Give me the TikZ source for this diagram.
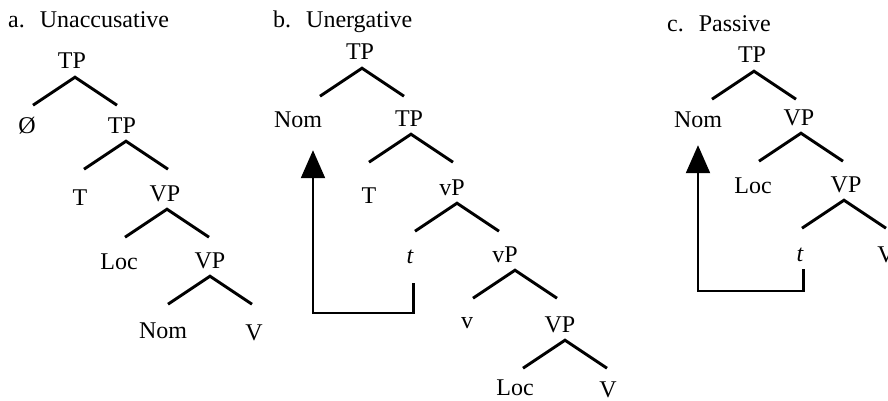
\documentclass[tikz,border=0pt]{standalone}
\usepackage{fontspec}
\setmainfont{Liberation Serif}
\usetikzlibrary{calc,arrows.meta}

\tikzset{
  lbl/.style={anchor=base, inner sep=0pt, text depth=8pt, font=\fontsize{24}{28}\selectfont},
  leaf/.style={lbl, text depth=0pt},
  ttl/.style={anchor=base west, inner sep=0pt, font=\fontsize{24}{28}\selectfont},
  branch/.style={line width=2.9pt, line cap=butt},
  move/.style={line width=2.2pt, -{Triangle[width=24pt,length=28pt]}},
}

% roof of two branches hanging below a node; optional argument shifts the apex sideways
\newcommand\roof[2][0]{%
  \coordinate (#2-apex) at ($(#2.south)+(#1,0)$);
  \coordinate (#2-l) at ($(#2-apex)+(-42,28)$);
  \coordinate (#2-r) at ($(#2-apex)+(42,28)$);
  \draw[branch] (#2-l) -- (#2-apex) -- (#2-r);}

\begin{document}
\begin{tikzpicture}[x=1pt, y=-1pt]
\useasboundingbox (0,0) rectangle (888,401);

% ---------- a. Unaccusative ----------
\node[ttl] (atitle) at (8,28) {a.\hspace{15pt}Unaccusative};
\node[lbl] (aTP1) at (72,69) {TP};
\node[lbl] (aNull) at (27,133) {Ø};
\node[lbl] (aTP2) at (122,133) {TP};
\node[lbl] (aT) at (80,205) {T};
\node[lbl] (aVP1) at (165,201) {VP};
\node[lbl] (aLoc) at (119,269) {Loc};
\node[lbl] (aVP2) at (210,268) {VP};
\node[leaf] (aNom) at (163,338) {Nom};
\node[leaf] (aV) at (254,340) {V};
\roof[3]{aTP1}
\roof[4]{aTP2}
\roof[2]{aVP1}
\roof[0]{aVP2}

% ---------- b. Unergative ----------
\node[ttl] (btitle) at (273,28) {b.\hspace{15pt}Unergative};
\node[lbl] (bTP1) at (360,60) {TP};
\node[lbl] (bNom) at (298,128) {Nom};
\node[lbl] (bTP2) at (409,126) {TP};
\node[lbl] (bT) at (369,203) {T};
\node[lbl] (bvP1) at (452,195) {vP};
\node[lbl] (bt) at (410,263) {\itshape t};
\node[lbl] (bvP2) at (505,262) {vP};
\node[lbl] (bv) at (467,328) {v};
\node[lbl] (bVP) at (560,332) {VP};
\node[leaf] (bLoc) at (515,395) {Loc};
\node[leaf] (bV) at (608,397) {V};
\roof[2]{bTP1}
\roof[2]{bTP2}
\roof[5]{bvP1}
\roof[10]{bvP2}
\roof[5]{bVP}

% movement of the subject from t up to Nom
\coordinate (bfoot) at (313,313);
\draw[move, shorten <=12pt, shorten >=14pt]
  (bt.south east) |- (bfoot) -- (bfoot |- bNom.south);

% ---------- c. Passive ----------
\node[ttl] (ctitle) at (667,32) {c.\hspace{15pt}Passive};
\node[lbl] (cTP1) at (752,63) {TP};
\node[lbl] (cNom) at (698,128) {Nom};
\node[lbl] (cVP1) at (799,125) {VP};
\node[lbl] (cLoc) at (753,193) {Loc};
\node[lbl] (cVP2) at (846,192) {VP};
\node[lbl] (ct) at (800,261) {\itshape t};
\node[leaf] (cV) at (886,262) {V};
\roof[2]{cTP1}
\roof[2]{cVP1}
\roof[-2]{cVP2}

% movement of the object from t up to Nom
\coordinate (cfoot) at (698,291);
\draw[move, shorten >=9pt]
  (ct.south east) |- (cfoot) -- (cfoot |- cNom.south);
\end{tikzpicture}
\end{document}
